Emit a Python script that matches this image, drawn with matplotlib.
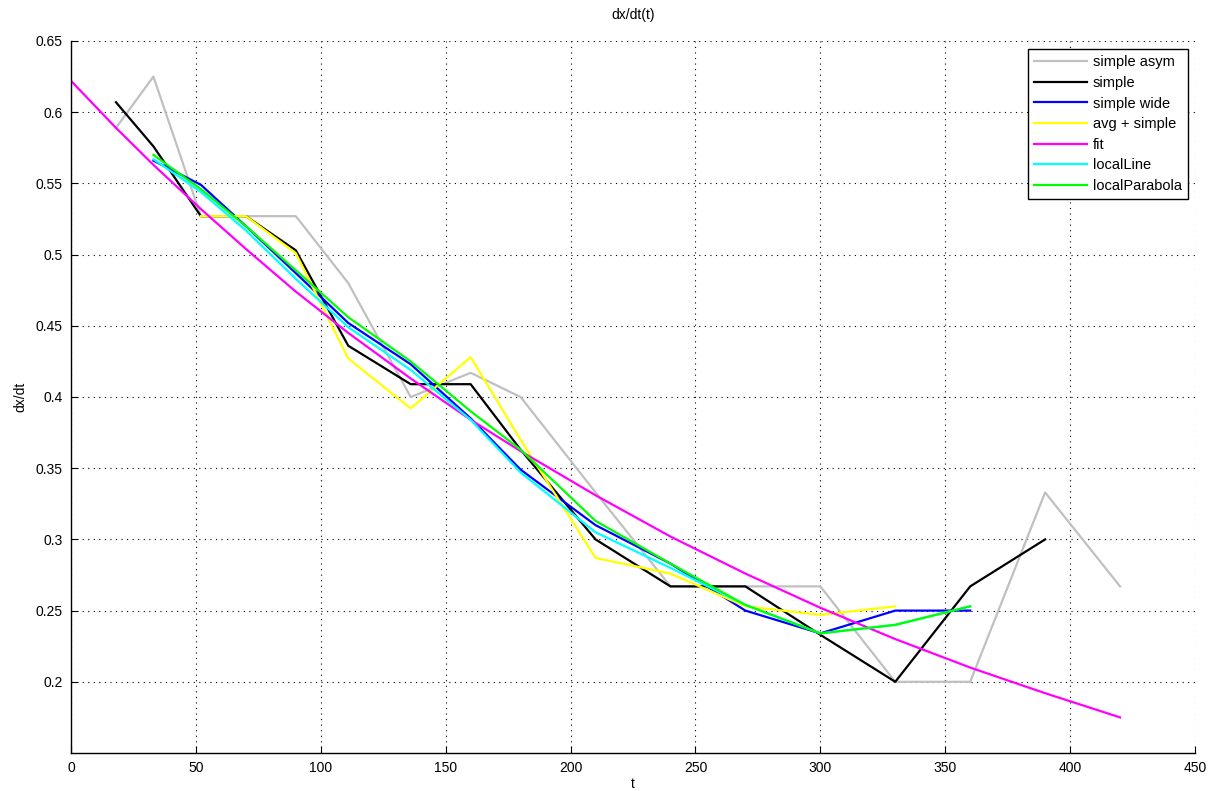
"""
Dérivée dx/dt(t) : comparaison des différentes méthodes d'estimation
(différences simples, moyenne, fit global, régressions locales).
"""

import matplotlib
matplotlib.use("Agg")
import matplotlib.pyplot as plt

plt.rcParams["font.family"] = ["Liberation Sans", "DejaVu Sans"]

# instants de mesure
T = [18, 33, 52, 70, 90, 111, 136, 160, 180, 210, 240, 270, 300, 330, 360, 390, 420]
T_FIT = [0] + T

SIMPLE_ASYM = [0.589, 0.625, 0.527, 0.527, 0.527, 0.480, 0.400, 0.417, 0.400,
               0.333, 0.267, 0.267, 0.267, 0.200, 0.200, 0.333, 0.267]
SIMPLE = [0.607, 0.576, 0.527, 0.527, 0.503, 0.436, 0.409, 0.409, 0.363,
          0.300, 0.267, 0.267, 0.233, 0.200, 0.267, 0.300]
SIMPLE_WIDE = [0.566, 0.549, 0.520, 0.487, 0.452, 0.423, 0.385, 0.349,
               0.310, 0.283, 0.250, 0.234, 0.250, 0.250]
AVG_SIMPLE = [0.527, 0.527, 0.501, 0.427, 0.392, 0.428, 0.370, 0.287,
              0.276, 0.253, 0.247, 0.253]
FIT = [0.622, 0.589, 0.563, 0.532, 0.504, 0.474, 0.445, 0.413, 0.384,
       0.362, 0.331, 0.302, 0.276, 0.252, 0.230, 0.210, 0.192, 0.175]
LOCAL_LINE = [0.567, 0.544, 0.517, 0.483, 0.449, 0.419, 0.384, 0.347,
              0.305, 0.280, 0.254, 0.234, 0.240, 0.253]
LOCAL_PARABOLA = [0.570, 0.546, 0.520, 0.489, 0.456, 0.425, 0.390, 0.363,
                  0.313, 0.283, 0.254, 0.234, 0.240, 0.253]

SERIES = [
    ("simple asym",   T,          SIMPLE_ASYM,    "#c0c0c0"),
    ("simple",        T[:16],     SIMPLE,         "black"),
    ("simple wide",   T[1:15],    SIMPLE_WIDE,    "blue"),
    ("avg + simple",  T[2:14],    AVG_SIMPLE,     "yellow"),
    ("fit",           T_FIT,      FIT,            "magenta"),
    ("localLine",     T[1:15],    LOCAL_LINE,     "cyan"),
    ("localParabola", T[1:15],    LOCAL_PARABOLA, "lime"),
]

Y_TICKS = [0.2, 0.25, 0.3, 0.35, 0.4, 0.45, 0.5, 0.55, 0.6, 0.65]
Y_TICKLABELS = ["0.2", "0.25", "0.3", "0.35", "0.4", "0.45", "0.5", "0.55", "0.6", "0.65"]
X_TICKS = [0, 50, 100, 150, 200, 250, 300, 350, 400, 450]


fig = plt.figure(figsize=(12.12, 7.91), dpi=100)
ax = fig.add_axes([71 / 1212, 1 - 753 / 791, (1195 - 71) / 1212, (753 - 41) / 791])

for label, t, v, color in SERIES:
    ax.plot(t, v, color=color, linewidth=1.6, label=label)

ax.set_xlim(0, 450)
ax.set_ylim(0.15, 0.65)
ax.set_xticks(X_TICKS)
ax.set_xticklabels([str(x) for x in X_TICKS])
ax.set_yticks(Y_TICKS)
ax.set_yticklabels(Y_TICKLABELS)
ax.tick_params(direction="in", length=5, width=0.8, labelsize=10, pad=6)

ax.grid(True, color="black", linestyle=(0, (1, 4)), linewidth=0.8)
ax.spines["top"].set_visible(False)
ax.spines["right"].set_visible(False)
for s in ("left", "bottom"):
    ax.spines[s].set_linewidth(1.0)

ax.set_title("dx/dt(t)", fontsize=10, pad=16)
ax.set_xlabel("t", fontsize=10, labelpad=1)
ax.set_ylabel("dx/dt", fontsize=10, labelpad=6)

leg = ax.legend(loc="upper right", bbox_to_anchor=(0.994, 0.989), fontsize=10.5,
                frameon=True, fancybox=False, framealpha=1, edgecolor="black",
                handlelength=3.6, labelspacing=0.45, borderaxespad=0,
                borderpad=0.45, handletextpad=0.4)
leg.get_frame().set_linewidth(1.0)

fig.savefig("out.png", dpi=100)
